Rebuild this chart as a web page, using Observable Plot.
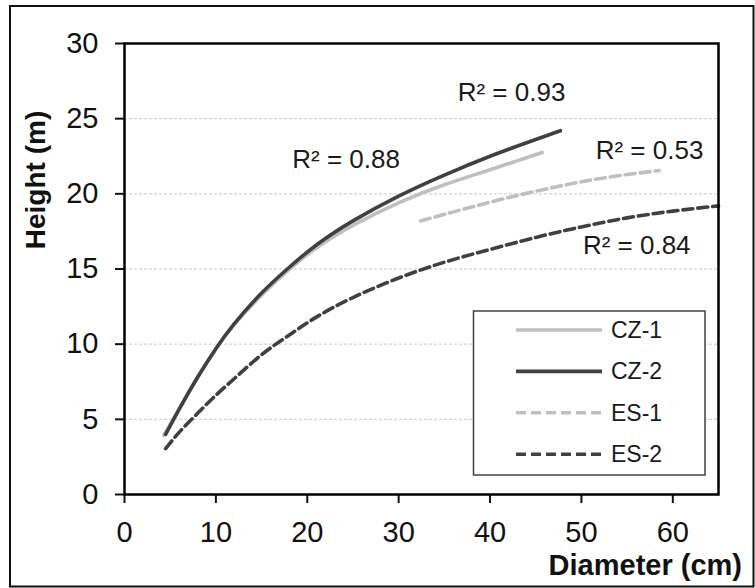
<!DOCTYPE html>
<html><head><meta charset="utf-8">
<script src="https://cdn.jsdelivr.net/npm/d3@7"></script>
<script src="https://cdn.jsdelivr.net/npm/@observablehq/plot@0.6"></script>
<style>
html,body{margin:0;padding:0;background:#fff;}
#chart{position:relative;width:755px;height:588px;}
</style></head><body><div id="chart"></div>
<script>
const seriesNames = ["CZ-1", "CZ-2", "ES-1", "ES-2"];
const cz1Diameter = [4.3, 6, 8, 10, 12, 15, 18, 21, 25, 30, 35, 40, 45.7];
const cz1Height   = [3.95, 5.7, 7.8, 9.7, 11.3, 13.25, 14.95, 16.4, 17.9, 19.4, 20.6, 21.6, 22.75];
const cz2Diameter = [4.5, 6, 8, 10, 12, 15, 18, 21, 25, 30, 35, 40, 44, 47.7];
const cz2Height   = [4.0, 5.7, 7.8, 9.7, 11.35, 13.4, 15.1, 16.6, 18.2, 19.85, 21.25, 22.5, 23.4, 24.2];
const es1Diameter = [32.4, 36, 41, 46, 50, 54, 58.5];
const es1Height   = [18.2, 18.8, 19.6, 20.3, 20.8, 21.2, 21.55];
const es2Diameter = [4.5, 6, 8, 10, 12, 15, 18, 21, 25, 30, 35, 40, 45, 50, 55, 60, 65];
const es2Height   = [3.05, 4.15, 5.4, 6.6, 7.7, 9.3, 10.6, 11.8, 13.1, 14.4, 15.45, 16.3, 17.1, 17.8, 18.4, 18.85, 19.2];
const r2Labels    = ["R² = 0.88", "R² = 0.93", "R² = 0.53", "R² = 0.84"];
const r2Diameter  = [24.25, 42.35, 57.45, 56.05];
const r2Height    = [22.26, 26.71, 22.85, 16.55];
const xTicks = [0, 10, 20, 30, 40, 50, 60];
const yTicks = [0, 5, 10, 15, 20, 25, 30];
const gridValues = [5, 10, 15, 20, 25];

const rows = (name, ds, hs) => ds.map((d, i) => ({series: name, D: d, H: hs[i]}));
const cz1 = rows(seriesNames[0], cz1Diameter, cz1Height);
const cz2 = rows(seriesNames[1], cz2Diameter, cz2Height);
const es1 = rows(seriesNames[2], es1Diameter, es1Height);
const es2 = rows(seriesNames[3], es2Diameter, es2Height);
const r2 = r2Labels.map((t, i) => ({label: t, D: r2Diameter[i], H: r2Height[i]}));

const light = "#bfbfbf", dark = "#404040", dash = "10,5", lw = 3.6;
const styles = {
  "CZ-1": {stroke: light, dash: null},
  "CZ-2": {stroke: dark, dash: null},
  "ES-1": {stroke: light, dash: dash},
  "ES-2": {stroke: dark, dash: dash}
};

const plot = Plot.plot({
  width: 755, height: 588,
  marginLeft: 124, marginRight: 37, marginTop: 43, marginBottom: 94,
  style: {fontFamily: "'Liberation Sans', Arial, sans-serif", background: "transparent", color: "#111"},
  x: {domain: [0, 65], label: null},
  y: {domain: [0, 30], label: null},
  marks: [
    Plot.gridY(gridValues, {stroke: "#c8c8c8", strokeOpacity: 1, strokeWidth: 1, strokeDasharray: "3,2"}),
    Plot.line(es2, {x: "D", y: "H", stroke: dark, strokeWidth: lw, strokeDasharray: dash, curve: "natural"}),
    Plot.line(es1, {x: "D", y: "H", stroke: light, strokeWidth: lw, strokeDasharray: dash, curve: "natural"}),
    Plot.line(cz1, {x: "D", y: "H", stroke: light, strokeWidth: lw, curve: "natural"}),
    Plot.line(cz2, {x: "D", y: "H", stroke: dark, strokeWidth: lw, curve: "natural"}),
    Plot.text(r2, {x: "D", y: "H", text: "label", fontSize: 26, fill: "#1a1a1a"}),
    Plot.axisY(yTicks, {tickSize: 9, tickPadding: 17, fontSize: 29, strokeWidth: 2, label: null}),
    Plot.axisX(xTicks, {tickSize: 9, tickPadding: 18, fontSize: 29, strokeWidth: 2, label: null}),
    Plot.frame({stroke: "#000", strokeWidth: 2.5})
  ]
});

const svg = d3.select(plot);
// outer border
svg.insert("rect", ":first-child").attr("x", 10).attr("y", 6).attr("width", 743.5).attr("height", 580.5)
  .attr("fill", "#fff").attr("stroke", "#111").attr("stroke-width", 2);
// axis titles
svg.append("text").attr("transform", "translate(35,180) rotate(-90)")
  .attr("text-anchor", "middle").attr("dominant-baseline", "central")
  .attr("font-size", 28).attr("font-weight", "bold").attr("fill", "#111").text("Height (m)");
svg.append("text").attr("x", 742).attr("y", 575).attr("text-anchor", "end")
  .attr("font-size", 29).attr("font-weight", "bold").attr("fill", "#111").text("Diameter (cm)");
// legend
const lg = svg.append("g");
lg.append("rect").attr("x", 473.5).attr("y", 311).attr("width", 231.5).attr("height", 164)
  .attr("fill", "#fff").attr("stroke", "#404040").attr("stroke-width", 1.5);
seriesNames.forEach((name, i) => {
  const y = 330 + i * 41.4;
  const s = styles[name];
  const ln = lg.append("line").attr("x1", 516).attr("x2", 602).attr("y1", y).attr("y2", y)
    .attr("stroke", s.stroke).attr("stroke-width", lw);
  if (s.dash) ln.attr("stroke-dasharray", s.dash);
  lg.append("text").attr("x", 611).attr("y", y).attr("dominant-baseline", "central")
    .attr("text-anchor", "start").attr("font-size", 23).attr("fill", "#1a1a1a").text(name);
});

document.getElementById("chart").appendChild(plot);
</script>
</body></html>
